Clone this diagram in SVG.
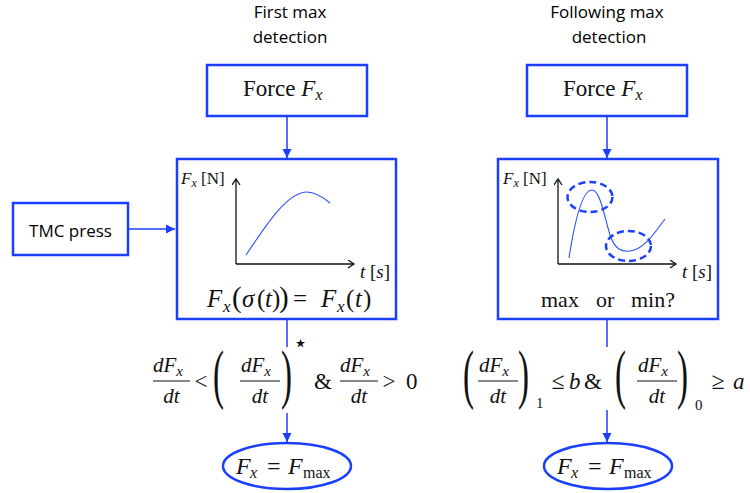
<svg xmlns="http://www.w3.org/2000/svg" width="750" height="493" viewBox="0 0 750 493">
<defs>
<style>
.box{fill:#fff;stroke:#1a3fff;stroke-width:2.5}
.conn{stroke:#1a3fff;stroke-width:1.5;fill:none}
.ttl{font-family:"Open Sans","Liberation Sans",sans-serif;font-size:17px;fill:#000;text-anchor:middle}
.m{font-family:"Liberation Serif","DejaVu Serif",serif;fill:#111}
.i{font-style:italic}
.axis{stroke:#111;stroke-width:1.3;fill:none}
.curve{stroke:#2a4fff;stroke-width:1.1;fill:none}
.dash{stroke:#1a3fff;stroke-width:2.5;fill:none;stroke-dasharray:7 4}
.bar{stroke:#111;stroke-width:1}
</style>
<marker id="arr" markerUnits="userSpaceOnUse" markerWidth="10" markerHeight="10" refX="9" refY="5" orient="auto">
<path d="M0,0.5 L9,5 L0,9.5 z" fill="#1a3fff"/>
</marker>
<marker id="ax" markerUnits="userSpaceOnUse" markerWidth="10" markerHeight="10" refX="7" refY="4.5" orient="auto">
<path d="M1,0.5 L7,4.5 L1,8.5" fill="none" stroke="#111" stroke-width="1.3"/>
</marker>
</defs>
<rect width="750" height="493" fill="#fff"/>

<g id="titles">
<text class="ttl" x="290" y="18">First max</text>
<text class="ttl" x="290" y="43">detection</text>
<text class="ttl" x="607" y="18">Following max</text>
<text class="ttl" x="609" y="43">detection</text>
</g>

<g id="connectors">
<line class="conn" x1="287" y1="116" x2="287" y2="158" marker-end="url(#arr)"/>
<line class="conn" x1="287" y1="319" x2="287" y2="347"/>
<line class="conn" x1="287" y1="413" x2="287" y2="442" marker-end="url(#arr)"/>
<line class="conn" x1="128" y1="229" x2="175" y2="229" marker-end="url(#arr)"/>
<line class="conn" x1="607" y1="116" x2="607" y2="158" marker-end="url(#arr)"/>
<line class="conn" x1="607" y1="319" x2="607" y2="347"/>
<line class="conn" x1="607" y1="410" x2="607" y2="442" marker-end="url(#arr)"/>
</g>

<g id="force-left">
<rect class="box" x="207" y="65" width="160" height="51"/>
<text class="m" x="243" y="96" font-size="23">Force <tspan class="i">F</tspan><tspan class="i" font-size="16" dy="4">x</tspan></text>
</g>

<g id="force-right">
<rect class="box" x="527" y="65" width="160" height="51"/>
<text class="m" x="563" y="96" font-size="23">Force <tspan class="i">F</tspan><tspan class="i" font-size="16" dy="4">x</tspan></text>
</g>

<g id="tmc-press">
<rect class="box" x="13" y="203" width="115" height="52"/>
<text x="70.5" y="237" font-family="'Open Sans','Liberation Sans',sans-serif" font-size="17" fill="#000" text-anchor="middle">TMC press</text>
</g>

<g id="main-left">
<rect class="box" x="177" y="159" width="219" height="160"/>
<text class="m" x="181" y="184" font-size="17"><tspan class="i">F</tspan><tspan class="i" font-size="12" dy="3">x</tspan><tspan dy="-3"> [N]</tspan></text>
<line class="axis" x1="236" y1="264" x2="236" y2="179" marker-end="url(#ax)"/>
<line class="axis" x1="236" y1="264" x2="354" y2="264" marker-end="url(#ax)"/>
<text class="m" x="360" y="278" font-size="19"><tspan class="i">t</tspan> [<tspan class="i">s</tspan>]</text>
<path class="curve" d="M246,255 C268,222 288,192 307,192 C316,192 324,198 330,203"/>
<text class="m" font-size="25" y="307"><tspan class="i" x="207">F</tspan><tspan class="i" font-size="17" x="223" dy="5">x</tspan><tspan x="232" dy="-5" font-size="29">(</tspan><tspan class="i" x="242">σ</tspan><tspan x="257">(</tspan><tspan class="i" x="265">t</tspan><tspan x="272">)</tspan><tspan x="279" font-size="29">)</tspan><tspan x="293">=</tspan><tspan class="i" x="321">F</tspan><tspan class="i" font-size="17" x="337" dy="5">x</tspan><tspan dy="-5" x="346">(</tspan><tspan class="i" x="355">t</tspan><tspan x="363">)</tspan></text>
</g>

<g id="main-right">
<rect class="box" x="498" y="159" width="220" height="160"/>
<text class="m" x="503" y="184" font-size="17"><tspan class="i">F</tspan><tspan class="i" font-size="12" dy="3">x</tspan><tspan dy="-3"> [N]</tspan></text>
<line class="axis" x1="558" y1="264" x2="558" y2="179" marker-end="url(#ax)"/>
<line class="axis" x1="558" y1="264" x2="676" y2="264" marker-end="url(#ax)"/>
<text class="m" x="682" y="278" font-size="19"><tspan class="i">t</tspan> [<tspan class="i">s</tspan>]</text>
<path class="curve" d="M569,258 C578,200 586,190 592,190 C600,190 604,215 610,235 C615,250 622,252 630,251 C645,249 655,232 665,219"/>
<ellipse class="dash" cx="590" cy="197" rx="22.5" ry="15"/>
<ellipse class="dash" cx="628.5" cy="246" rx="22.5" ry="15"/>
<text class="m" font-size="22" y="307"><tspan x="541">max</tspan><tspan x="596">or</tspan><tspan x="631">min?</tspan></text>
</g>

<g id="condition-left" class="m">
<text font-size="21" y="372"><tspan class="i" x="153">dF</tspan><tspan class="i" font-size="15" dy="4">x</tspan></text>
<line class="bar" x1="153" y1="381" x2="190" y2="381"/>
<text class="i" font-size="21" x="171.5" y="403" text-anchor="middle">dt</text>
<text font-size="23" x="201" y="389" text-anchor="middle">&lt;</text>
<text font-size="66" x="0" y="396" transform="translate(213,0) scale(0.5,1)">(</text>
<text font-size="21" y="372"><tspan class="i" x="241">dF</tspan><tspan class="i" font-size="15" dy="4">x</tspan></text>
<line class="bar" x1="240" y1="381" x2="280" y2="381"/>
<text class="i" font-size="21" x="260" y="403" text-anchor="middle">dt</text>
<text font-size="66" x="0" y="396" transform="translate(281,0) scale(0.5,1)">)</text>
<text font-family="'DejaVu Sans',sans-serif" font-size="24" x="293" y="351" fill="#111">⋆</text>
<text font-size="23" x="314" y="389">&amp;</text>
<text font-size="21" y="372"><tspan class="i" x="340">dF</tspan><tspan class="i" font-size="15" dy="4">x</tspan></text>
<line class="bar" x1="340" y1="381" x2="378" y2="381"/>
<text class="i" font-size="21" x="359" y="403" text-anchor="middle">dt</text>
<text font-size="23" x="389" y="389" text-anchor="middle">&gt;</text>
<text font-size="23" x="406" y="389">0</text>
</g>

<g id="condition-right" class="m">
<text font-size="66" x="0" y="396" transform="translate(463,0) scale(0.5,1)">(</text>
<text font-size="21" y="372"><tspan class="i" x="479">dF</tspan><tspan class="i" font-size="15" dy="4">x</tspan></text>
<line class="bar" x1="478" y1="381" x2="518" y2="381"/>
<text class="i" font-size="21" x="498" y="403" text-anchor="middle">dt</text>
<text font-size="66" x="0" y="396" transform="translate(518,0) scale(0.5,1)">)</text>
<text font-size="15" x="536" y="408">1</text>
<text font-size="24" x="558" y="389" text-anchor="middle">≤</text>
<text class="i" font-size="23" x="569" y="389">b</text>
<text font-size="23" x="584" y="389">&amp;</text>
<text font-size="66" x="0" y="396" transform="translate(615,0) scale(0.5,1)">(</text>
<text font-size="21" y="372"><tspan class="i" x="638">dF</tspan><tspan class="i" font-size="15" dy="4">x</tspan></text>
<line class="bar" x1="637" y1="381" x2="677" y2="381"/>
<text class="i" font-size="21" x="657" y="403" text-anchor="middle">dt</text>
<text font-size="66" x="0" y="396" transform="translate(677,0) scale(0.5,1)">)</text>
<text font-size="15" x="695" y="410">0</text>
<text font-size="24" x="718" y="389" text-anchor="middle">≥</text>
<text class="i" font-size="23" x="733" y="389">a</text>
</g>

<g id="result-left">
<ellipse cx="287" cy="466" rx="64" ry="23" fill="#fff" stroke="#1a3fff" stroke-width="2.5"/>
<text class="m" font-size="24" y="474"><tspan class="i" x="236">F</tspan><tspan class="i" font-size="16" x="250" dy="4">x</tspan><tspan dy="-4" x="267">=</tspan><tspan class="i" x="288">F</tspan><tspan font-size="16" x="303" dy="4">max</tspan></text>
</g>

<g id="result-right">
<ellipse cx="608" cy="466" rx="64" ry="23" fill="#fff" stroke="#1a3fff" stroke-width="2.5"/>
<text class="m" font-size="24" y="474"><tspan class="i" x="557">F</tspan><tspan class="i" font-size="16" x="571" dy="4">x</tspan><tspan dy="-4" x="588">=</tspan><tspan class="i" x="609">F</tspan><tspan font-size="16" x="624" dy="4">max</tspan></text>
</g>
</svg>
